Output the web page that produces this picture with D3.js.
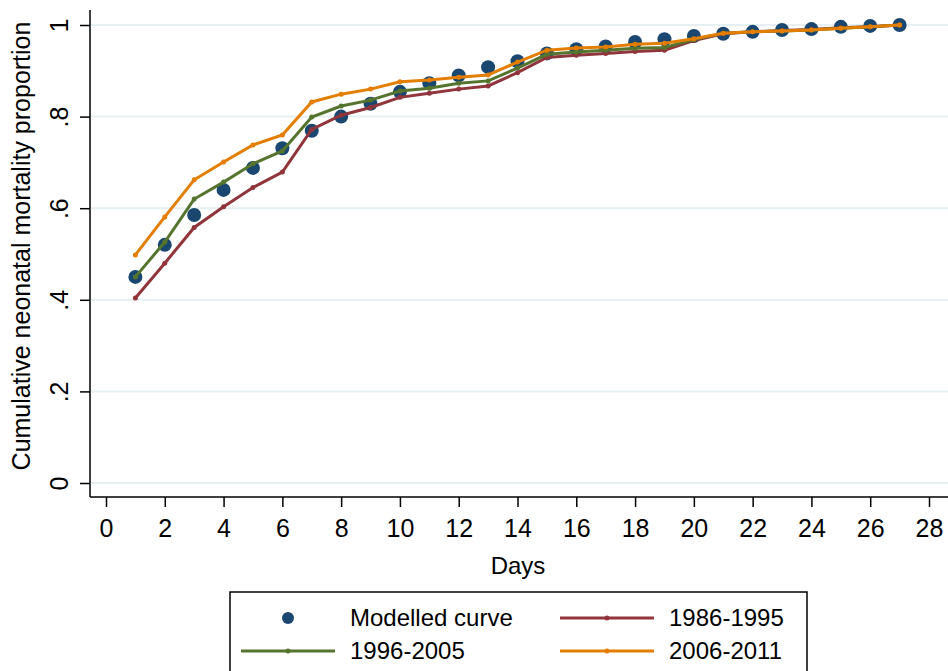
<!DOCTYPE html>
<html>
<head>
<meta charset="utf-8">
<script src="https://cdn.jsdelivr.net/npm/d3@7"></script>
<style>
  body { margin: 0; background: #fff; }
  svg { display: block; font-family: "Liberation Sans", Arial, sans-serif; }
</style>
</head>
<body>
<svg width="948" height="671"></svg>
<script>
// Data
const days = [1, 2, 3, 4, 5, 6, 7, 8, 9, 10, 11, 12, 13, 14, 15, 16, 17, 18, 19, 20, 21, 22, 23, 24, 25, 26, 27];
const modelled = [0.450, 0.520, 0.585, 0.640, 0.688, 0.731, 0.769, 0.800, 0.828, 0.854, 0.873, 0.890, 0.908, 0.921, 0.938, 0.947, 0.953, 0.963, 0.969, 0.976, 0.981, 0.985, 0.989, 0.991, 0.996, 0.998, 1.000];
const p1986 = [0.404, 0.480, 0.558, 0.603, 0.645, 0.679, 0.772, 0.803, 0.820, 0.842, 0.851, 0.860, 0.867, 0.896, 0.929, 0.934, 0.938, 0.942, 0.945, 0.966, 0.981, 0.985, 0.988, 0.990, 0.994, 0.996, 1.000];
const p1996 = [0.450, 0.526, 0.620, 0.657, 0.697, 0.725, 0.799, 0.823, 0.836, 0.856, 0.862, 0.873, 0.878, 0.906, 0.936, 0.941, 0.945, 0.949, 0.951, 0.968, 0.982, 0.985, 0.987, 0.989, 0.993, 0.996, 1.000];
const p2006 = [0.498, 0.581, 0.662, 0.701, 0.738, 0.760, 0.832, 0.849, 0.860, 0.876, 0.880, 0.886, 0.891, 0.919, 0.945, 0.950, 0.952, 0.958, 0.960, 0.970, 0.982, 0.985, 0.987, 0.989, 0.993, 0.996, 1.000];

const xTicks = [0, 2, 4, 6, 8, 10, 12, 14, 16, 18, 20, 22, 24, 26, 28];
const yTicks = [0, 0.2, 0.4, 0.6, 0.8, 1];
const yTickLabels = ["0", ".2", ".4", ".6", ".8", "1"];

const series = [
  { name: "1986-1995", values: p1986, color: "#90353b" },
  { name: "1996-2005", values: p1996, color: "#55752f" },
  { name: "2006-2011", values: p2006, color: "#e37e00" }
];
const dotColor = "#1a476f";

const svg = d3.select("svg");

// plot region
const plotLeft = 90, plotRight = 948, plotTop = 10, plotBottom = 497;

const x = d3.scaleLinear().domain([0, 28]).range([106, 929]);
const y = d3.scaleLinear().domain([0, 1]).range([483, 25]);

// gridlines
svg.append("g")
  .selectAll("line")
  .data(yTicks)
  .join("line")
  .attr("x1", plotLeft)
  .attr("x2", plotRight)
  .attr("y1", d => y(d))
  .attr("y2", d => y(d))
  .attr("stroke", "#e6eff1")
  .attr("stroke-width", 2);

// axes
const yAxis = svg.append("g")
  .attr("transform", `translate(${plotLeft},0)`)
  .call(d3.axisLeft(y).tickValues(yTicks).tickSize(10).tickSizeOuter(0)
    .tickFormat((d, i) => yTickLabels[i]));
yAxis.select(".domain").remove();
yAxis.append("line")
  .attr("x1", 0).attr("x2", 0)
  .attr("y1", plotTop).attr("y2", plotBottom)
  .attr("stroke", "#000").attr("stroke-width", 1.5);
yAxis.selectAll(".tick line").attr("stroke-width", 1.5);
yAxis.selectAll(".tick text")
  .attr("x", null).attr("dy", null)
  .attr("transform", "translate(-22,0) rotate(-90)")
  .attr("text-anchor", "middle")
  .attr("font-size", 25)
  .attr("font-family", "Liberation Sans, Arial, sans-serif")
  .attr("fill", "#000");

const xAxis = svg.append("g")
  .attr("transform", `translate(0,${plotBottom})`)
  .call(d3.axisBottom(x).tickValues(xTicks).tickSize(10).tickSizeOuter(0));
xAxis.select(".domain").remove();
xAxis.append("line")
  .attr("x1", plotLeft).attr("x2", plotRight)
  .attr("y1", 0).attr("y2", 0)
  .attr("stroke", "#000").attr("stroke-width", 1.5);
xAxis.selectAll(".tick line").attr("stroke-width", 1.5);
xAxis.selectAll(".tick text")
  .attr("y", 40).attr("dy", null)
  .attr("font-size", 25)
  .attr("font-family", "Liberation Sans, Arial, sans-serif")
  .attr("fill", "#000");

// axis titles
svg.append("text")
  .attr("transform", "translate(30,246) rotate(-90)")
  .attr("text-anchor", "middle")
  .attr("font-size", 25)
  .text("Cumulative neonatal mortality proportion");

svg.append("text")
  .attr("x", 518)
  .attr("y", 574)
  .attr("text-anchor", "middle")
  .attr("font-size", 24)
  .text("Days");

// modelled curve dots
svg.append("g")
  .selectAll("circle")
  .data(days)
  .join("circle")
  .attr("cx", d => x(d))
  .attr("cy", (d, i) => y(modelled[i]))
  .attr("r", 7)
  .attr("fill", dotColor);

// period lines
const line = d3.line()
  .x(d => x(d[0]))
  .y(d => y(d[1]));

series.forEach(s => {
  const pts = days.map((d, i) => [d, s.values[i]]);
  svg.append("path")
    .datum(pts)
    .attr("d", line)
    .attr("fill", "none")
    .attr("stroke", s.color)
    .attr("stroke-width", 3);
  svg.append("g")
    .selectAll("circle")
    .data(pts)
    .join("circle")
    .attr("cx", d => x(d[0]))
    .attr("cy", d => y(d[1]))
    .attr("r", 2.5)
    .attr("fill", s.color);
});

// legend
const legend = svg.append("g");
legend.append("rect")
  .attr("x", 230).attr("y", 592)
  .attr("width", 577).attr("height", 90)
  .attr("fill", "#fff")
  .attr("stroke", "#000")
  .attr("stroke-width", 1.5);

const legendItems = [
  { label: "Modelled curve", type: "dot", color: dotColor, kx: 241, tx: 350, ky: 618 },
  { label: series[0].name, type: "line", color: series[0].color, kx: 560, tx: 669, ky: 618 },
  { label: series[1].name, type: "line", color: series[1].color, kx: 241, tx: 350, ky: 651 },
  { label: series[2].name, type: "line", color: series[2].color, kx: 560, tx: 669, ky: 651 }
];

legendItems.forEach(it => {
  if (it.type === "dot") {
    legend.append("circle")
      .attr("cx", it.kx + 47).attr("cy", it.ky)
      .attr("r", 6).attr("fill", it.color);
  } else {
    legend.append("line")
      .attr("x1", it.kx).attr("x2", it.kx + 94)
      .attr("y1", it.ky).attr("y2", it.ky)
      .attr("stroke", it.color).attr("stroke-width", 3);
    legend.append("circle")
      .attr("cx", it.kx + 47).attr("cy", it.ky)
      .attr("r", 2.5).attr("fill", it.color);
  }
  legend.append("text")
    .attr("x", it.tx).attr("y", it.ky + 8)
    .attr("font-size", 24)
    .text(it.label);
});
</script>
</body>
</html>
